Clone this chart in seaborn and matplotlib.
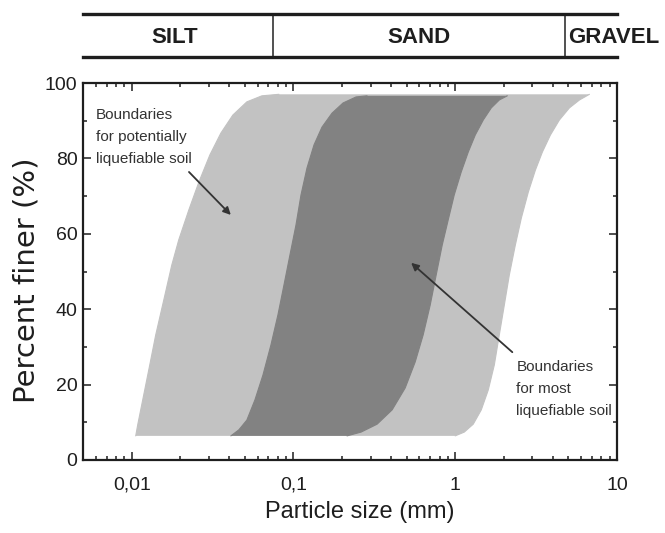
import matplotlib
matplotlib.use("Agg")
import matplotlib.pyplot as plt
import seaborn as sns
from matplotlib.ticker import FixedLocator, FixedFormatter, LogLocator, NullFormatter, MultipleLocator

# ---------------- data ----------------
# Boundaries for potentially liquefiable soil (light band), left edge bottom->top
light_left_x = [0.01059, 0.01089, 0.01137, 0.01204, 0.01293, 0.01408, 0.01578, 0.01769,
                0.01954, 0.02254, 0.02601, 0.03041, 0.03557, 0.04220, 0.05152, 0.06383, 0.08131]
light_left_y = [6.4, 9.3, 13.3, 18.6, 25.2, 33.2, 42.4, 51.7,
                58.4, 66.3, 73.7, 80.9, 86.7, 91.5, 95.0, 96.6, 97.0]
# right edge top->bottom
light_right_x = [6.755, 5.86, 5.08, 4.406, 3.875, 3.458, 3.130, 2.831, 2.563, 2.352,
                 2.160, 2.011, 1.873, 1.744, 1.601, 1.449, 1.292, 1.137, 1.000]
light_right_y = [97.0, 95.5, 93.4, 90.2, 86.2, 81.7, 76.9, 71.1, 64.2, 57.0,
                 49.1, 41.1, 33.2, 25.2, 18.6, 13.3, 9.5, 7.4, 6.4]

# Boundaries for most liquefiable soil (dark band), left edge bottom->top
dark_left_x = [0.04102, 0.04597, 0.05152, 0.05774, 0.06473, 0.07255, 0.08017, 0.08733, 0.09513,
               0.1036, 0.1113, 0.1213, 0.1340, 0.1501, 0.1731, 0.2025, 0.2438, 0.2851]
dark_left_y = [6.4, 8.0, 10.6, 15.9, 22.5, 30.5, 38.5, 46.4, 54.4,
               62.3, 70.3, 77.5, 83.6, 88.3, 92.0, 94.7, 96.3, 96.6]
# right edge top->bottom
dark_right_x = [2.099, 1.873, 1.671, 1.491, 1.330, 1.204, 1.089, 0.9858, 0.9051, 0.8308,
                0.7627, 0.7003, 0.6337, 0.5655, 0.4904, 0.4074, 0.3289, 0.2618, 0.2144]
dark_right_y = [96.6, 95.5, 93.4, 90.2, 86.2, 81.7, 76.4, 70.3, 63.7, 57.0,
                49.1, 41.1, 33.2, 26.0, 19.1, 13.3, 9.5, 7.4, 6.4]

x_ticks = [0.01, 0.1, 1, 10]
x_tick_labels = ["0,01", "0,1", "1", "10"]
y_ticks = [0, 20, 40, 60, 80, 100]

soil_classes = ["SILT", "SAND", "GRAVEL"]
class_bounds = [0.075, 4.75]

label_potential = "Boundaries\nfor potentially\nliquefiable soil"
label_most = "Boundaries\nfor most\nliquefiable soil"

# ---------------- style ----------------
sns.set_style("ticks")
plt.rcParams['font.family'] = ['Liberation Sans', 'DejaVu Sans']
LIGHT = "#c2c2c2"
DARK = "#828282"
INK = "#1e1e1e"

W, H = 665, 533
fig = plt.figure(figsize=(W / 100, H / 100), dpi=100)
fig.patch.set_facecolor("white")

ax_l, ax_r, ax_t, ax_b = 83, 617, 83, 460
ax = fig.add_axes([ax_l / W, 1 - ax_b / H, (ax_r - ax_l) / W, (ax_b - ax_t) / H])

# bands
ax.fill(light_left_x + light_right_x, light_left_y + light_right_y, color=LIGHT, lw=0, zorder=1)
ax.fill(dark_left_x + dark_right_x, dark_left_y + dark_right_y, color=DARK, lw=0, zorder=2)
for xs, ys, c, z in [(light_left_x, light_left_y, LIGHT, 1.5), (light_right_x, light_right_y, LIGHT, 1.5),
                     (dark_left_x, dark_left_y, DARK, 2.5), (dark_right_x, dark_right_y, DARK, 2.5)]:
    sns.lineplot(x=xs, y=ys, sort=False, estimator=None, color=c, lw=0.8, ax=ax, zorder=z, legend=False)

ax.set_xscale("log")
ax.set_xlim(0.005, 10)
ax.set_ylim(0, 100)

ax.xaxis.set_major_locator(FixedLocator(x_ticks))
ax.xaxis.set_major_formatter(FixedFormatter(x_tick_labels))
ax.xaxis.set_minor_locator(LogLocator(base=10, subs=[2, 3, 4, 5, 6, 7, 8, 9], numticks=20))
ax.xaxis.set_minor_formatter(NullFormatter())
ax.yaxis.set_major_locator(FixedLocator(y_ticks))
ax.yaxis.set_minor_locator(MultipleLocator(10))

for s in ax.spines.values():
    s.set_linewidth(1.6)
    s.set_color(INK)
ax.tick_params(which="both", direction="in", top=True, right=True, color=INK, width=1.1)
ax.tick_params(which="major", length=6)
ax.tick_params(which="minor", length=3)
ax.tick_params(axis="x", which="major", labelsize=14, pad=12, labelcolor=INK)
ax.tick_params(axis="y", which="major", labelsize=14, pad=4, labelcolor=INK)

ax.set_xlabel("Particle size (mm)", fontsize=17, color=INK)
ax.xaxis.set_label_coords((360 - ax_l) / (ax_r - ax_l), -0.11)
ax.set_ylabel("Percent finer (%)", fontsize=21, color=INK, family="DejaVu Sans")
ax.yaxis.set_label_coords((41 - ax_l) / (ax_r - ax_l), (ax_b - 280) / (ax_b - ax_t))

# annotations
ax.text(0.0060, 85.7, label_potential, ha="left", va="center", fontsize=11,
        linespacing=1.7, color="#333333", zorder=5)
ax.annotate("", xy=(0.041, 65), xytext=(0.0226, 76.4),
            arrowprops=dict(arrowstyle="-|>", color="#333333", lw=1.3, mutation_scale=11,
                            shrinkA=0, shrinkB=0), zorder=5)
ax.text(2.39, 18.8, label_most, ha="left", va="center", fontsize=11,
        linespacing=1.7, color="#333333", zorder=5)
ax.annotate("", xy=(0.534, 52.3), xytext=(2.254, 28.6),
            arrowprops=dict(arrowstyle="-|>", color="#333333", lw=1.3, mutation_scale=11,
                            shrinkA=0, shrinkB=0), zorder=5)

# header band with soil classes
hb_t, hb_b = 14, 57
hax = fig.add_axes([ax_l / W, 1 - hb_b / H, (ax_r - ax_l) / W, (hb_b - hb_t) / H])
hax.set_xscale("log")
hax.set_xlim(0.005, 10)
hax.set_ylim(0, 1)
hax.set_facecolor("none")
for side in ["left", "right"]:
    hax.spines[side].set_visible(False)
for side in ["top", "bottom"]:
    hax.spines[side].set_linewidth(2.4)
    hax.spines[side].set_color(INK)
hax.tick_params(which="both", bottom=False, top=False, left=False, right=False,
                labelbottom=False, labelleft=False)
for b in class_bounds:
    hax.axvline(b, color="#333333", lw=1.2)
base_y = (hb_b - 43) / (hb_b - hb_t)
hax.text(0.0185, base_y, soil_classes[0], ha="center", va="baseline", fontsize=16, fontweight="bold", color=INK)
hax.text(0.60, base_y, soil_classes[1], ha="center", va="baseline", fontsize=16, fontweight="bold", color=INK)
hax.text(5.0, base_y, soil_classes[2], ha="left", va="baseline", fontsize=16, fontweight="bold", color=INK,
         clip_on=False)

fig.savefig("out.png", dpi=100, facecolor="white")
